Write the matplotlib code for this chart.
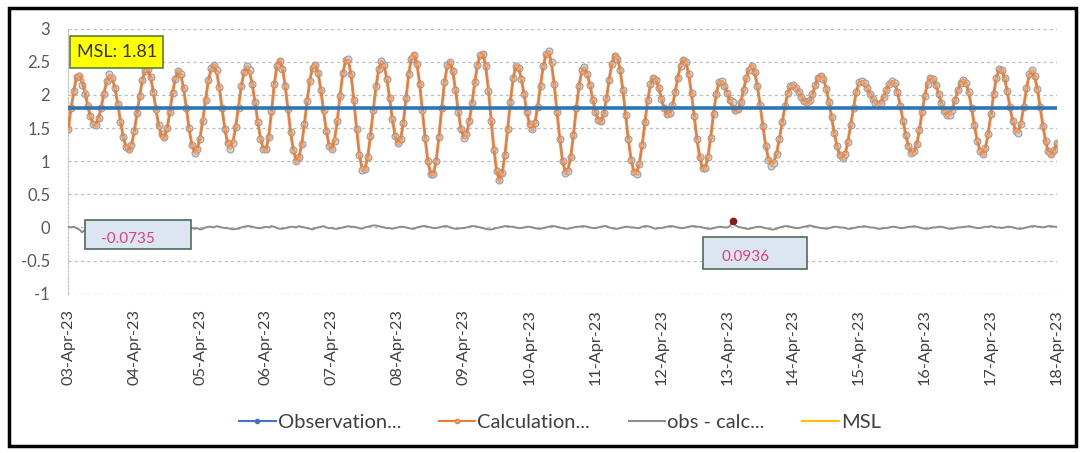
import matplotlib.pyplot as plt
import numpy as np
from matplotlib.lines import Line2D
from matplotlib.patches import Rectangle

plt.rcParams['font.family'] = ['Lato', 'DejaVu Sans']

# tide gauge, hourly values from 03-Apr-23 00:00 to 18-Apr-23 00:00 (metres)
calc = [
    1.48, 1.80, 2.05, 2.28, 2.31, 2.22, 2.06, 1.86, 1.68, 1.57, 1.55, 1.64,
    1.82, 2.03, 2.21, 2.29, 2.25, 2.10, 1.87, 1.61, 1.37, 1.21, 1.16, 1.24,
    1.44, 1.71, 1.99, 2.23, 2.38, 2.39, 2.26, 2.03, 1.76, 1.52, 1.37, 1.35,
    1.49, 1.75, 2.04, 2.26, 2.36, 2.30, 2.09, 1.80, 1.49, 1.25, 1.14, 1.19,
    1.36, 1.63, 1.93, 2.21, 2.39, 2.45, 2.35, 2.11, 1.80, 1.49, 1.28, 1.21,
    1.30, 1.53, 1.83, 2.13, 2.34, 2.42, 2.35, 2.16, 1.89, 1.60, 1.35, 1.19,
    1.17, 1.37, 1.74, 2.15, 2.45, 2.53, 2.41, 2.14, 1.79, 1.43, 1.16, 1.01,
    1.05, 1.25, 1.56, 1.92, 2.23, 2.43, 2.46, 2.33, 2.07, 1.75, 1.45, 1.24,
    1.19, 1.33, 1.63, 2.00, 2.33, 2.52, 2.52, 2.30, 1.92, 1.49, 1.11, 0.89,
    0.88, 1.05, 1.36, 1.74, 2.10, 2.37, 2.50, 2.45, 2.25, 1.96, 1.65, 1.39,
    1.27, 1.32, 1.57, 1.95, 2.32, 2.57, 2.62, 2.47, 2.16, 1.75, 1.33, 0.99,
    0.81, 0.81, 1.01, 1.37, 1.79, 2.18, 2.43, 2.50, 2.37, 2.09, 1.77, 1.49,
    1.36, 1.41, 1.59, 1.86, 2.17, 2.44, 2.60, 2.63, 2.45, 2.09, 1.63, 1.19,
    0.86, 0.72, 0.81, 1.08, 1.47, 1.89, 2.24, 2.44, 2.41, 2.25, 2.01, 1.74,
    1.55, 1.49, 1.59, 1.84, 2.15, 2.44, 2.62, 2.65, 2.47, 2.15, 1.74, 1.34,
    1.01, 0.84, 0.87, 1.07, 1.40, 1.79, 2.13, 2.35, 2.40, 2.31, 2.15, 1.94,
    1.75, 1.62, 1.59, 1.71, 1.94, 2.23, 2.48, 2.61, 2.57, 2.38, 2.07, 1.69,
    1.32, 1.02, 0.84, 0.82, 0.97, 1.24, 1.57, 1.91, 2.15, 2.27, 2.24, 2.12,
    1.95, 1.80, 1.70, 1.71, 1.83, 2.03, 2.26, 2.45, 2.54, 2.49, 2.30, 2.01,
    1.66, 1.32, 1.05, 0.90, 0.90, 1.08, 1.37, 1.72, 2.02, 2.19, 2.20, 2.14,
    2.03, 1.91, 1.80, 1.75, 1.78, 1.90, 2.09, 2.27, 2.40, 2.44, 2.34, 2.13,
    1.84, 1.53, 1.24, 1.04, 0.96, 1.00, 1.13, 1.34, 1.58, 1.82, 2.01, 2.13,
    2.15, 2.11, 2.05, 1.97, 1.90, 1.87, 1.90, 2.00, 2.14, 2.26, 2.30, 2.25,
    2.11, 1.91, 1.66, 1.42, 1.22, 1.09, 1.05, 1.12, 1.31, 1.56, 1.82, 2.05,
    2.18, 2.20, 2.16, 2.10, 2.02, 1.94, 1.89, 1.87, 1.90, 1.98, 2.08, 2.16,
    2.20, 2.17, 2.04, 1.85, 1.62, 1.40, 1.22, 1.12, 1.13, 1.25, 1.47, 1.75,
    2.00, 2.19, 2.27, 2.24, 2.15, 2.01, 1.87, 1.76, 1.70, 1.72, 1.80, 1.93,
    2.07, 2.18, 2.22, 2.17, 2.03, 1.80, 1.55, 1.32, 1.17, 1.11, 1.19, 1.40,
    1.69, 2.00, 2.25, 2.39, 2.38, 2.26, 2.05, 1.81, 1.60, 1.47, 1.45, 1.58,
    1.83, 2.10, 2.30, 2.36, 2.27, 2.08, 1.81, 1.53, 1.29, 1.13, 1.09, 1.16,
    1.27,
]

# observation minus calculation
resid = [
    0.01, 0.00, 0.01, -0.01, -0.03, -0.0735, -0.04, -0.02, 0.00, -0.01, 0.00, 0.01,
    -0.01, -0.02, 0.00, 0.02, 0.01, 0.00, -0.01, -0.02, -0.01, 0.01, 0.02, 0.01,
    0.02, 0.01, 0.00, -0.01, -0.02, 0.00, 0.01, 0.02, 0.03, 0.02, 0.04, 0.02,
    0.01, 0.00, -0.01, -0.02, 0.00, 0.01, 0.02, 0.01, 0.01, -0.01, -0.02, -0.01,
    -0.03, -0.02, 0.00, 0.01, 0.01, 0.00, 0.02, 0.01, 0.00, -0.01, -0.01, -0.02,
    -0.03, -0.02, -0.02, 0.00, 0.01, 0.02, 0.02, 0.01, 0.00, -0.01, -0.01, 0.00,
    0.01, 0.00, 0.02, 0.01, -0.01, -0.02, -0.02, -0.01, 0.00, 0.01, 0.01, 0.00,
    0.02, 0.01, 0.00, -0.01, -0.02, -0.03, -0.01, 0.00, 0.01, 0.02, 0.00, -0.01,
    -0.01, -0.02, -0.02, -0.01, 0.00, 0.01, 0.02, 0.01, 0.01, 0.00, -0.01, -0.02,
    0.00, 0.01, 0.02, 0.03, 0.03, 0.02, 0.01, 0.00, -0.01, -0.01, -0.02, -0.01,
    0.00, 0.01, 0.01, 0.00, -0.01, -0.02, -0.02, 0.00, 0.01, 0.02, 0.02, 0.01,
    0.00, -0.01, -0.01, 0.00, 0.01, 0.02, 0.02, 0.00, -0.01, -0.02, -0.02, -0.01,
    -0.01, 0.00, 0.01, 0.02, 0.02, 0.01, 0.00, -0.01, -0.02, -0.03, -0.03, -0.02,
    -0.01, 0.00, 0.01, 0.02, 0.02, 0.01, 0.01, 0.00, -0.01, -0.01, 0.00, 0.01,
    0.01, 0.00, -0.01, -0.02, -0.02, -0.01, 0.00, 0.01, 0.02, 0.02, 0.01, 0.00,
    -0.01, -0.02, -0.02, -0.01, 0.00, 0.01, 0.01, 0.02, 0.02, 0.01, 0.00, -0.01,
    -0.01, 0.00, 0.01, 0.02, 0.02, 0.00, -0.01, -0.02, -0.02, -0.01, 0.00, 0.01,
    0.01, 0.00, 0.00, -0.01, -0.01, 0.01, 0.02, 0.02, 0.01, -0.01, -0.02, -0.01,
    -0.01, 0.00, 0.01, 0.02, 0.02, 0.01, 0.00, -0.01, -0.01, 0.00, 0.01, 0.02,
    0.02, 0.01, 0.01, 0.00, -0.01, -0.02, -0.02, -0.01, 0.00, 0.01, 0.01, 0.00,
    0.00, 0.02, 0.0936, 0.03, 0.01, 0.00, -0.01, -0.02, -0.02, -0.01, 0.00, 0.01,
    0.01, 0.00, -0.01, -0.02, -0.03, -0.03, -0.02, 0.00, 0.01, 0.02, 0.02, 0.01,
    0.00, -0.01, -0.01, 0.00, 0.01, 0.02, 0.03, 0.02, 0.01, 0.00, -0.01, -0.01,
    -0.02, -0.01, 0.00, 0.01, 0.01, 0.00, 0.00, -0.01, -0.02, -0.02, -0.01, 0.00,
    0.01, 0.01, 0.02, 0.01, 0.00, 0.00, -0.01, -0.02, -0.02, -0.01, -0.01, 0.00,
    0.01, 0.01, 0.00, -0.01, -0.01, 0.00, 0.01, 0.01, 0.02, 0.01, 0.00, -0.01,
    -0.02, -0.02, -0.01, 0.00, 0.00, 0.01, 0.01, 0.00, -0.01, -0.02, -0.02, -0.01,
    0.00, 0.00, 0.01, 0.01, 0.02, 0.01, 0.00, -0.01, -0.01, 0.00, 0.01, 0.01,
    0.02, 0.01, 0.00, 0.00, -0.01, 0.00, 0.01, 0.01, 0.00, -0.01, -0.02, -0.02,
    -0.01, 0.00, 0.01, 0.02, 0.02, 0.01, 0.01, 0.00, 0.01, 0.02, 0.02, 0.01,
    0.01,
]

msl = 1.81

day_labels = ['03-Apr-23', '04-Apr-23', '05-Apr-23', '06-Apr-23', '07-Apr-23',
              '08-Apr-23', '09-Apr-23', '10-Apr-23', '11-Apr-23', '12-Apr-23',
              '13-Apr-23', '14-Apr-23', '15-Apr-23', '16-Apr-23', '17-Apr-23',
              '18-Apr-23']
y_ticks = [-1, -0.5, 0, 0.5, 1, 1.5, 2, 2.5, 3]
y_labels = ['-1', '-0.5', '0', '0.5', '1', '1.5', '2', '2.5', '3']

calc = np.array(calc)
resid = np.array(resid)
obs = calc + resid
time_h = np.arange(len(calc))

W, H = 1081, 453
fig = plt.figure(figsize=(W / 100, H / 100), dpi=100)
ax = fig.add_axes([68.3 / W, 1 - 293.7 / H, (1056.7 - 68.3) / W, (293.7 - 28.7) / H])

# outer frame round the whole chart
fig.patches.append(Rectangle((9 / W, 1 - 446 / H), (1076 - 9) / W, (446 - 8) / H,
                             transform=fig.transFigure, fill=False, lw=2.5, ec='black'))

ax.plot(time_h, obs, color='#4472C4', lw=1, marker='o', ms=5,
        mfc='#d2d2d2', mec='#979797', mew=0.8, alpha=0.9, zorder=3)
ax.plot(time_h, calc, color='#ED7D31', lw=2.2, marker='o', ms=2.5,
        mfc='#F4B183', mec='#E58A4E', mew=0.5, alpha=0.85, zorder=4)
ax.plot(time_h, resid, color='#8c8c8c', lw=1.4, zorder=3)
ax.axhline(msl, color='#2E75B6', lw=2.6, zorder=5)

# highlighted extreme of the residual
imax = int(np.argmax(resid))
ax.plot(time_h[imax], resid[imax], 'o', color='#8B1A1A', ms=4.5, zorder=6)

# label boxes
ax.add_patch(Rectangle((0.6, 2.40), 34.0, 0.49, fc='#FFFF00', ec='#5E7F3A', lw=1.2, zorder=7))
ax.text(17.6, 2.645, 'MSL: 1.81', fontsize=13, color='#333333', ha='center', va='center', zorder=8)

ax.add_patch(Rectangle((6.1, -0.323), 38.6, 0.44, fc='#DCE6F2', ec='#4F6B5A', lw=1.2, zorder=7))
ax.text(21.8, -0.17, '-0.0735', fontsize=11, color='#E0407A', ha='center', va='center', zorder=8)

ax.add_patch(Rectangle((231.3, -0.63), 37.9, 0.48, fc='#DCE6F2', ec='#4F6B5A', lw=1.2, zorder=7))
ax.text(246.6, -0.45, '0.0936', fontsize=11, color='#E0407A', ha='center', va='center', zorder=8)

ax.set_xlim(0, 360)
ax.set_ylim(-1, 3)
ax.set_yticks(y_ticks)
ax.set_yticklabels(y_labels)
ax.set_xticks(np.arange(0, 361, 24))
ax.set_xticklabels(day_labels, rotation=90)
ax.tick_params(axis='y', length=0, pad=13, labelsize=12, labelcolor='#595959')
ax.tick_params(axis='x', length=0, pad=11, labelsize=11.7, labelcolor='#404040')
ax.yaxis.grid(True, ls=(0, (2.5, 2.5)), color='#bdbdbd', lw=0.9)
for s in ['top', 'right', 'bottom']:
    ax.spines[s].set_visible(False)
ax.spines['left'].set_linestyle((0, (1.5, 1.5)))
ax.spines['left'].set_color('#c4c4c4')
ax.spines['left'].set_linewidth(0.9)

handles = [
    Line2D([], [], color='#4472C4', lw=1.5, marker='o', ms=3, mfc='#4472C4'),
    Line2D([], [], color='#ED7D31', lw=1.5, marker='o', ms=3, mfc='#F4B183'),
    Line2D([], [], color='#8c8c8c', lw=1.5),
    Line2D([], [], color='#FFC000', lw=1.5),
]
labels = ['Observation...', 'Calculation...', 'obs - calc...', 'MSL']
leg = fig.legend(handles, labels, loc='center', bbox_to_anchor=(560 / W, 1 - 422 / H),
                 ncol=4, frameon=False, fontsize=14.5, handlelength=1.8,
                 columnspacing=1.9, handletextpad=0.1)
for t in leg.get_texts():
    t.set_color('#404040')

fig.savefig('out.png', dpi=100)
